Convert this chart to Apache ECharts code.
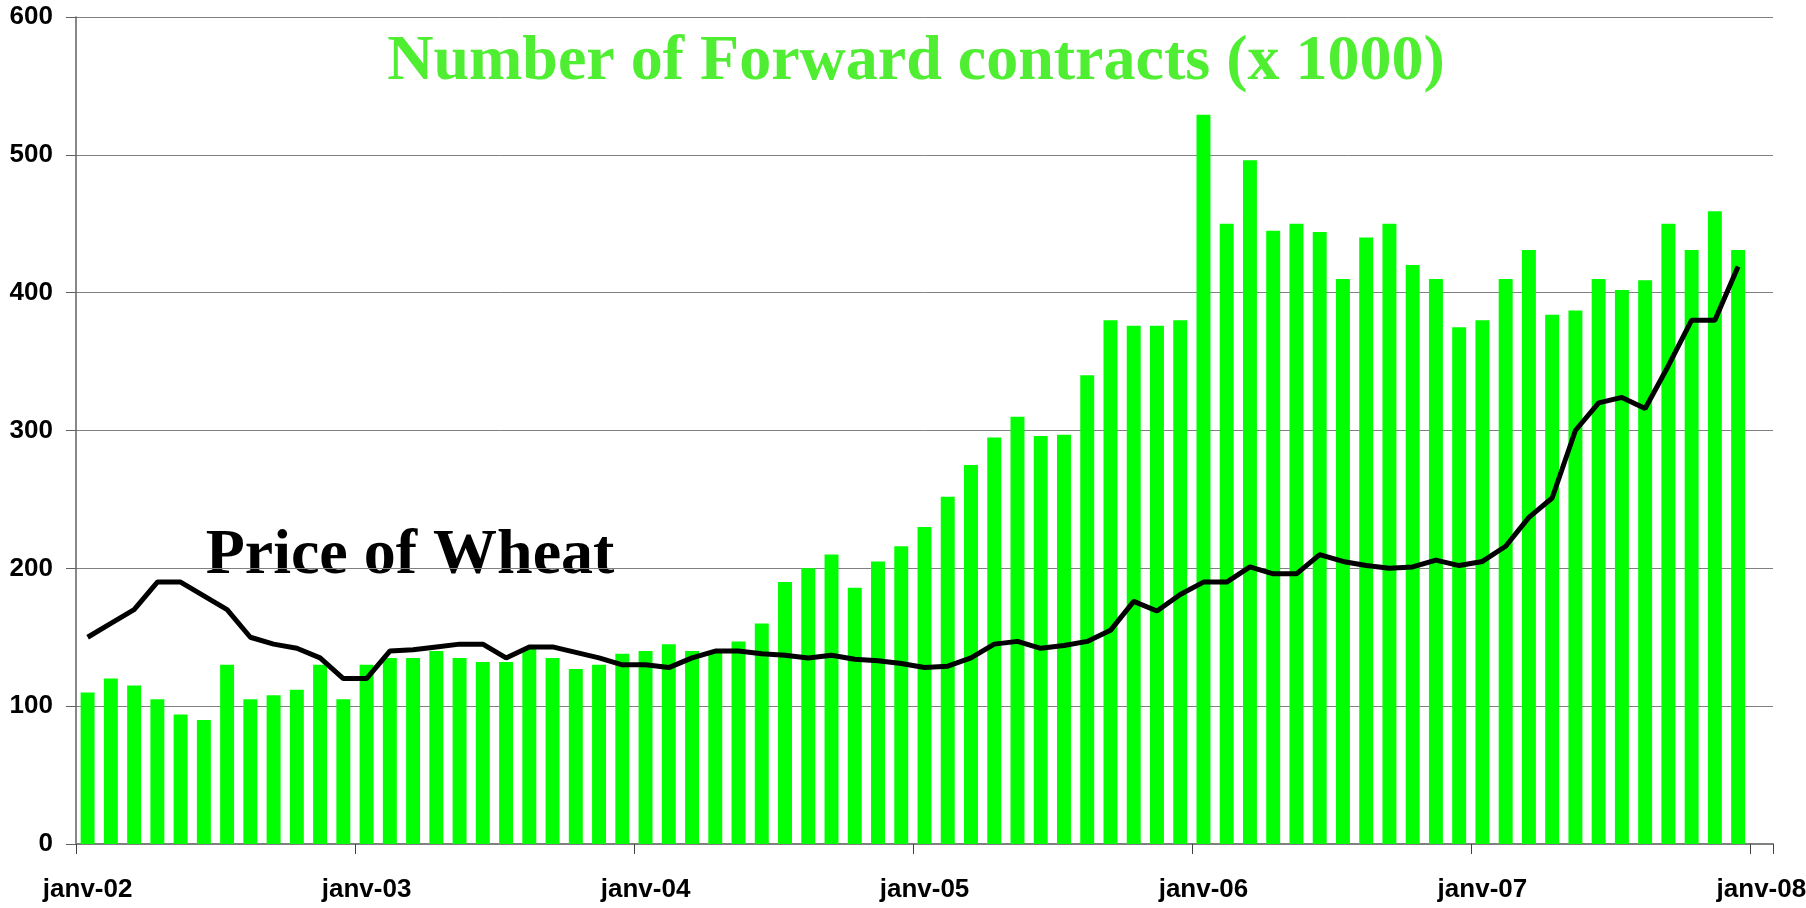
<!DOCTYPE html>
<html>
<head>
    <title>Forward contracts and price of wheat</title>
    <style>
        html, body {
            margin: 0;
            padding: 0;
            background: #ffffff;
        }

        #chart {
            width: 1806px;
            height: 908px;
        }
    </style>
    <script src="https://cdn.jsdelivr.net/npm/echarts@6/dist/echarts.min.js"></script>
</head>
<body>
    <div id="chart"></div>

    <script>
        // month labels as Excel writes them in French (mmm-yy)
        var monthNames = ['janv', 'févr', 'mars', 'avr', 'mai', 'juin', 'juil', 'août', 'sept', 'oct', 'nov', 'déc'];
        var years = ['02', '03', '04', '05', '06', '07', '08'];

        // number of forward contracts (x 1000), monthly janv-02 .. déc-07
        var contracts = [
            110, 120, 115, 105, 94, 90, 130, 105, 108, 112, 130, 105,
            130, 135, 135, 140, 135, 132, 132, 142, 135, 127, 130, 138,
            140, 145, 140, 139, 147, 160, 190, 200, 210, 186, 205, 216,
            230, 252, 275, 295, 310, 296, 297, 340, 380, 376, 376, 380,
            529, 450, 496, 445, 450, 444, 410, 440, 450, 420, 410, 375,
            380, 410, 431, 384, 387, 410, 402, 409, 450, 431, 459, 431
        ];

        // price of wheat, same months
        var wheatPrice = [
            150, 160, 170, 190, 190, 180, 170, 150, 145, 142, 135, 120,
            120, 140, 141, 143, 145, 145, 135, 143, 143, 139, 135, 130,
            130, 128, 135, 140, 140, 138, 137, 135, 137, 134, 133, 131,
            128, 129, 135, 145, 147, 142, 144, 147, 155, 176, 169, 181,
            190, 190, 201, 196, 196, 210, 205, 202, 200, 201, 206, 202,
            205, 216, 237, 251, 300, 320, 324, 316, 347, 380, 380, 419
        ];

        var yTicks = [0, 100, 200, 300, 400, 500, 600];

        // janv-02 .. janv-08 (the last month has no data)
        var categories = [];
        years.forEach(function (yy, i) {
            monthNames.forEach(function (m, j) {
                if (i < years.length - 1 || j === 0) {
                    categories.push(m + '-' + yy);
                }
            });
        });

        var chart = echarts.init(document.getElementById('chart'));

        var labelFont = {
            fontFamily: 'Liberation Sans, Arial, sans-serif',
            fontWeight: 'bold',
            fontSize: 26,
            color: '#000000'
        };

        var option = {
            animation: false,
            backgroundColor: '#ffffff',
            grid: {
                left: 76,
                right: 33,
                top: 17,
                bottom: 64,
                containLabel: false,
                outerBoundsMode: 'none'
            },
            xAxis: {
                type: 'category',
                data: categories,
                boundaryGap: true,
                axisLine: { lineStyle: { color: '#808080', width: 2 } },
                axisTick: {
                    show: true,
                    interval: 11,
                    length: 10,
                    alignWithLabel: false,
                    lineStyle: { color: '#404040', width: 1 }
                },
                axisLabel: Object.assign({ interval: 11, margin: 21 }, labelFont),
                splitLine: { show: false }
            },
            yAxis: {
                type: 'value',
                min: yTicks[0],
                max: yTicks[yTicks.length - 1],
                interval: 100,
                axisLine: { show: true, lineStyle: { color: '#606060', width: 1.5 } },
                axisTick: { show: true, length: 10, lineStyle: { color: '#606060' } },
                axisLabel: Object.assign({ margin: 23 }, labelFont),
                splitLine: { lineStyle: { color: '#808080', width: 1 } }
            },
            graphic: [
                {
                    type: 'text',
                    style: {
                        text: 'Number of Forward contracts (x 1000)',
                        x: 916,
                        y: 62,
                        align: 'center',
                        verticalAlign: 'middle',
                        fill: '#50ee32',
                        font: 'bold 64px "Liberation Serif", "Times New Roman", serif'
                    }
                },
                {
                    type: 'text',
                    style: {
                        text: 'Price of Wheat',
                        x: 410,
                        y: 556,
                        align: 'center',
                        verticalAlign: 'middle',
                        fill: '#000000',
                        font: 'bold 64px "Liberation Serif", "Times New Roman", serif'
                    }
                }
            ],
            series: [
                {
                    name: 'Forward contracts',
                    type: 'bar',
                    data: contracts,
                    barCategoryGap: '40%',
                    itemStyle: { color: '#00ff00' }
                },
                {
                    name: 'Price of Wheat',
                    type: 'line',
                    data: wheatPrice,
                    showSymbol: false,
                    symbol: 'none',
                    z: 5,
                    lineStyle: { color: '#000000', width: 5 }
                }
            ]
        };

        chart.setOption(option);
    </script>
</body>
</html>
